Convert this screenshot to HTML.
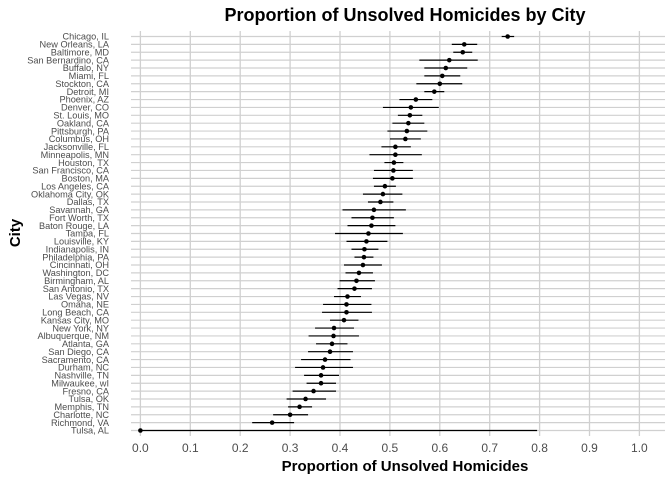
<!DOCTYPE html>
<html><head><meta charset="utf-8"><style>
body{margin:0;background:#fff;}
svg text{font-family:"Liberation Sans",Arial,sans-serif;}
</style></head><body>
<svg id="chart" width="672" height="480" xmlns="http://www.w3.org/2000/svg">
<text x="405" y="21" text-anchor="middle" font-size="18" font-weight="bold" fill="#000">Proportion of Unsolved Homicides by City</text>
<text x="405" y="471" text-anchor="middle" font-size="15" font-weight="bold" fill="#000">Proportion of Unsolved Homicides</text>
<text x="20" y="233" text-anchor="middle" font-size="15" font-weight="bold" fill="#000" transform="rotate(-90 20 233)">City</text>
<g id="grid"></g><g id="marks"></g><g id="labels"></g>
</svg>
<script>
const cities=["Chicago, IL","New Orleans, LA","Baltimore, MD","San Bernardino, CA","Buffalo, NY","Miami, FL","Stockton, CA","Detroit, MI","Phoenix, AZ","Denver, CO","St. Louis, MO","Oakland, CA","Pittsburgh, PA","Columbus, OH","Jacksonville, FL","Minneapolis, MN","Houston, TX","San Francisco, CA","Boston, MA","Los Angeles, CA","Oklahoma City, OK","Dallas, TX","Savannah, GA","Fort Worth, TX","Baton Rouge, LA","Tampa, FL","Louisville, KY","Indianapolis, IN","Philadelphia, PA","Cincinnati, OH","Washington, DC","Birmingham, AL","San Antonio, TX","Las Vegas, NV","Omaha, NE","Long Beach, CA","Kansas City, MO","New York, NY","Albuquerque, NM","Atlanta, GA","San Diego, CA","Sacramento, CA","Durham, NC","Nashville, TN","Milwaukee, wI","Fresno, CA","Tulsa, OK","Memphis, TN","Charlotte, NC","Richmond, VA","Tulsa, AL"];
const estimate=[0.736,0.649,0.646,0.619,0.612,0.605,0.600,0.589,0.552,0.542,0.540,0.537,0.534,0.531,0.511,0.511,0.508,0.507,0.505,0.490,0.486,0.481,0.468,0.465,0.463,0.457,0.453,0.449,0.448,0.446,0.438,0.433,0.429,0.415,0.413,0.413,0.408,0.388,0.387,0.384,0.380,0.370,0.366,0.362,0.362,0.347,0.331,0.319,0.300,0.264,0];
const ciLow=[0.724,0.624,0.627,0.559,0.569,0.569,0.553,0.569,0.519,0.486,0.516,0.505,0.495,0.500,0.483,0.459,0.489,0.468,0.466,0.468,0.446,0.456,0.405,0.423,0.415,0.390,0.413,0.423,0.429,0.408,0.411,0.399,0.395,0.388,0.366,0.364,0.380,0.350,0.337,0.352,0.336,0.322,0.310,0.328,0.333,0.305,0.293,0.296,0.266,0.224,0];
const ciHigh=[0.749,0.675,0.665,0.676,0.655,0.641,0.645,0.609,0.585,0.598,0.565,0.569,0.575,0.562,0.542,0.564,0.527,0.546,0.546,0.512,0.525,0.507,0.532,0.508,0.511,0.526,0.495,0.477,0.467,0.484,0.466,0.470,0.464,0.442,0.463,0.464,0.437,0.428,0.438,0.415,0.426,0.421,0.426,0.398,0.392,0.392,0.372,0.344,0.336,0.308,0.795];
const xTicks=[0,0.1,0.2,0.3,0.4,0.5,0.6,0.7,0.8,0.9,1.0];
const tickLabels=["0.0","0.1","0.2","0.3","0.4","0.5","0.6","0.7","0.8","0.9","1.0"];

const NS="http://www.w3.org/2000/svg";
const X=v=>140.4+v*499;
const Y=i=>36.5+i*(430.5-36.5)/(cities.length-1);
function mk(tag,attrs,parent){const e=document.createElementNS(NS,tag);for(const k in attrs)e.setAttribute(k,attrs[k]);parent.appendChild(e);return e;}
const grid=document.getElementById('grid'),marks=document.getElementById('marks'),labels=document.getElementById('labels');
cities.forEach((c,i)=>{
  const g=mk('line',{x1:131,x2:665,y1:Y(i),y2:Y(i),stroke:'#d0d0d0','stroke-width':1.2},grid);
  
  
  const t=mk('text',{x:109,y:Y(i)+3.2,'text-anchor':'end','font-size':9.2,fill:'#4d4d4d'},labels);
  t.textContent=c;
  
  
});
xTicks.forEach((v,i)=>{
  const g=mk('line',{x1:X(v),x2:X(v),y1:31,y2:436,stroke:'#d0d0d0','stroke-width':1.3},grid);
  
  
  const t=mk('text',{x:X(v),y:452,'text-anchor':'middle','font-size':12,fill:'#4d4d4d'},labels);
  t.textContent=tickLabels[i];
  
  
});
cities.forEach((c,i)=>{
  const l=mk('line',{x1:X(ciLow[i]),x2:X(ciHigh[i]),y1:Y(i),y2:Y(i),stroke:'#000','stroke-width':1.2},marks);
  
  
  const p=mk('circle',{cx:X(estimate[i]),cy:Y(i),r:2.3,fill:'#000'},marks);
  
  
});
</script>
</body></html>
